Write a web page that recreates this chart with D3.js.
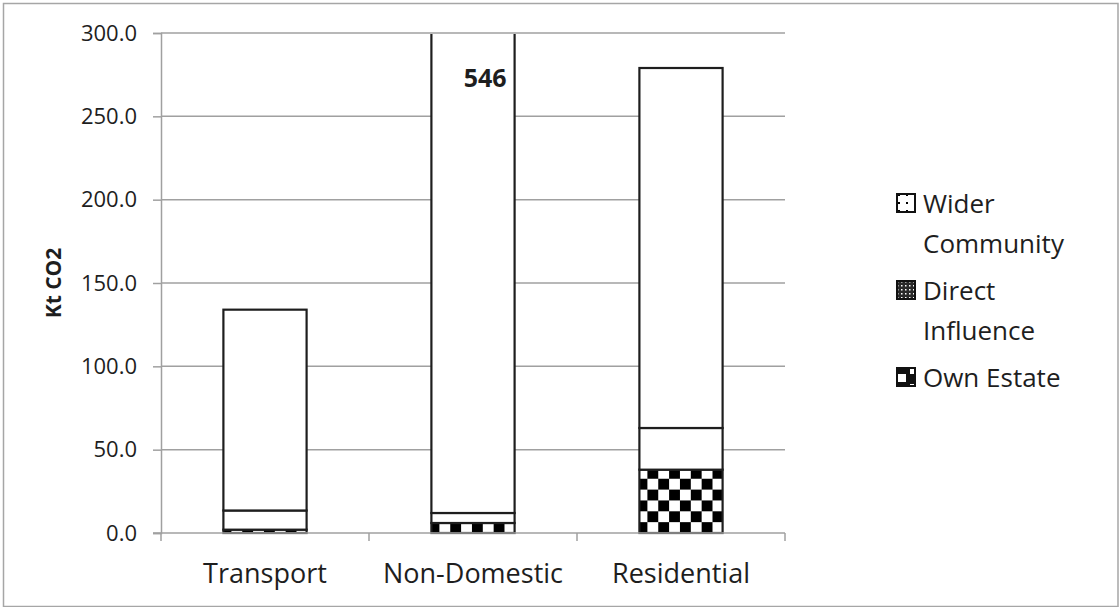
<!DOCTYPE html>
<html>
<head>
<meta charset="utf-8">
<script src="https://cdn.jsdelivr.net/npm/d3@7"></script>
<style>
  body { margin: 0; background: #fff; }
  text { font-family: "Open Sans", "Noto Sans", sans-serif; fill: #1e1e1e; }
</style>
</head>
<body>
<div id="chart"></div>
<script>
// valeurs (Kt CO2)
var categories = ["Transport", "Non-Domestic", "Residential"];
var ownEstate = [2, 6, 38];
var directInfluence = [11.5, 6, 25];
var widerCommunity = [120.5, 534, 216];
var yTicks = [0, 50, 100, 150, 200, 250, 300];
var yMax = 300;
var legendLabels = [["Wider", "Community"], ["Direct", "Influence"], ["Own Estate"]];

var width = 1120, height = 607;
var gauche = 161, droite = 785, haut = 33, bas = 533;

var svg = d3.select("#chart").append("svg").attr("width", width).attr("height", height);
var defs = svg.append("defs");

// cadre du graphique
svg.append("rect").attr("x", 3.5).attr("y", 3.5).attr("width", 1114.5).attr("height", 603)
   .style("fill", "#fff").style("stroke", "#a6a6a6").style("stroke-width", 1.5);

var x = d3.scaleBand().domain(categories).range([gauche, droite]).paddingInner(0.6).paddingOuter(0.3);
var y = d3.scaleLinear().domain([0, yMax]).range([bas, haut]);

// empilement : Own Estate en bas, puis Direct Influence, puis Wider Community
var rows = categories.map(function (c, i) {
   return { cat: c, own: ownEstate[i], direct: directInfluence[i], wider: widerCommunity[i] };
});
var series = d3.stack().keys(["own", "direct", "wider"])(rows);

// grille horizontale
svg.append("g").selectAll("line").data(yTicks.slice(1)).join("line")
   .attr("x1", gauche).attr("x2", droite)
   .attr("y1", function (d) { return y(d); }).attr("y2", function (d) { return y(d); })
   .style("stroke", "#a0a0a0").style("stroke-width", 1.5);

// motif damier pour chaque barre (ancré sur la barre)
var cell = 10.85;
categories.forEach(function (c, i) {
   var p = defs.append("pattern").attr("id", "damier" + i)
      .attr("patternUnits", "userSpaceOnUse")
      .attr("x", x(c) + 8).attr("y", bas)
      .attr("width", cell * 2).attr("height", cell * 2);
   p.append("rect").attr("width", cell * 2).attr("height", cell * 2).style("fill", "#fff");
   p.append("rect").attr("width", cell).attr("height", cell).style("fill", "#000");
   p.append("rect").attr("x", cell).attr("y", cell).attr("width", cell).attr("height", cell).style("fill", "#000");
});

defs.append("clipPath").attr("id", "zone").append("rect")
   .attr("x", 0).attr("y", haut + 1).attr("width", width).attr("height", bas - haut + 10);

var bars = svg.append("g").attr("clip-path", "url(#zone)");
series.forEach(function (s) {
   bars.append("g").selectAll("rect").data(s).join("rect")
      .attr("x", function (d) { return x(d.data.cat); })
      .attr("y", function (d) { return y(d[1]); })
      .attr("width", x.bandwidth())
      .attr("height", function (d) { return y(d[0]) - y(d[1]); })
      .style("fill", function (d, i) { return s.key == "own" ? "url(#damier" + i + ")" : "#fff"; })
      .style("stroke", "#1e1e1e")
      .style("stroke-width", 2.2);
});

// axe vertical
var yAxis = d3.axisLeft(y).tickValues(yTicks).tickFormat(d3.format(".1f")).tickSize(8).tickPadding(16);
var gy = svg.append("g").attr("transform", "translate(" + gauche + ",0)").call(yAxis);
gy.select(".domain").style("stroke", "#a0a0a0").style("stroke-width", 1.5);
gy.selectAll(".tick line").style("stroke", "#a0a0a0").style("stroke-width", 1.5);
gy.selectAll(".tick text").style("font-size", "22px").style("fill", "#1e1e1e")
   .style("font-family", "'Open Sans', sans-serif");

// axe horizontal
svg.append("line").attr("x1", gauche - 8).attr("x2", droite).attr("y1", bas).attr("y2", bas)
   .style("stroke", "#a0a0a0").style("stroke-width", 1.5);
var bords = categories.map(function (c) { return x(c) - x.step() * x.paddingInner() / 2; });
bords.push(droite);
svg.append("g").selectAll("line").data(bords).join("line")
   .attr("x1", function (d) { return d; }).attr("x2", function (d) { return d; })
   .attr("y1", bas).attr("y2", bas + 8)
   .style("stroke", "#a0a0a0").style("stroke-width", 1.5);
svg.append("g").selectAll("text").data(categories).join("text")
   .attr("x", function (d) { return x(d) + x.bandwidth() / 2; })
   .attr("y", 583)
   .attr("text-anchor", "middle")
   .style("font-size", "27px")
   .text(function (d) { return d; });

// titre de l'axe
svg.append("text").attr("transform", "translate(61,283) rotate(-90)")
   .attr("text-anchor", "middle").style("font-size", "21px").style("font-weight", "bold")
   .text("Kt CO2");

// total affiché quand la barre dépasse l'échelle
svg.append("g").selectAll("text").data(rows.filter(function (r) { return r.own + r.direct + r.wider > yMax; }))
   .join("text")
   .attr("x", function (d) { return x(d.cat) + x.bandwidth() - 8; })
   .attr("y", y(yMax) + 54)
   .attr("text-anchor", "end")
   .style("font-size", "25px").style("font-weight", "bold")
   .text(function (d) { return d3.format("d")(d.own + d.direct + d.wider); });

// motifs de la légende
var pw = defs.append("pattern").attr("id", "pWider").attr("patternUnits", "userSpaceOnUse")
   .attr("width", 8).attr("height", 8);
pw.append("rect").attr("width", 8).attr("height", 8).style("fill", "#fff");
pw.append("rect").attr("x", 2).attr("y", 2).attr("width", 2).attr("height", 2).style("fill", "#000");
var pd = defs.append("pattern").attr("id", "pDirect").attr("patternUnits", "userSpaceOnUse")
   .attr("width", 4).attr("height", 4);
pd.append("rect").attr("width", 4).attr("height", 4).style("fill", "#2a2a2a");
pd.append("rect").attr("x", 1).attr("y", 1).attr("width", 1.5).attr("height", 1.5).style("fill", "#fff");
var po = defs.append("pattern").attr("id", "pOwn").attr("patternUnits", "userSpaceOnUse")
   .attr("x", 898).attr("width", 16).attr("height", 16);
po.append("rect").attr("width", 16).attr("height", 16).style("fill", "#111");
po.append("rect").attr("x", 0).attr("y", 6).attr("width", 8).attr("height", 8).style("fill", "#fff");
po.append("rect").attr("x", 12).attr("y", 0).attr("width", 4).attr("height", 6).style("fill", "#fff");

var motifs = ["pWider", "pDirect", "pOwn"];
var base = 213;
var legend = svg.append("g");
legendLabels.forEach(function (lignes, i) {
   legend.append("rect").attr("x", 897).attr("y", base - 19).attr("width", 18).attr("height", 18)
      .style("fill", "url(#" + motifs[i] + ")").style("stroke", "#111").style("stroke-width", 2);
   lignes.forEach(function (t, j) {
      legend.append("text").attr("x", 923).attr("y", base + j * 40)
         .style("font-size", "26px").text(t);
   });
   base += lignes.length * 40 + 7;
});
</script>
</body>
</html>
